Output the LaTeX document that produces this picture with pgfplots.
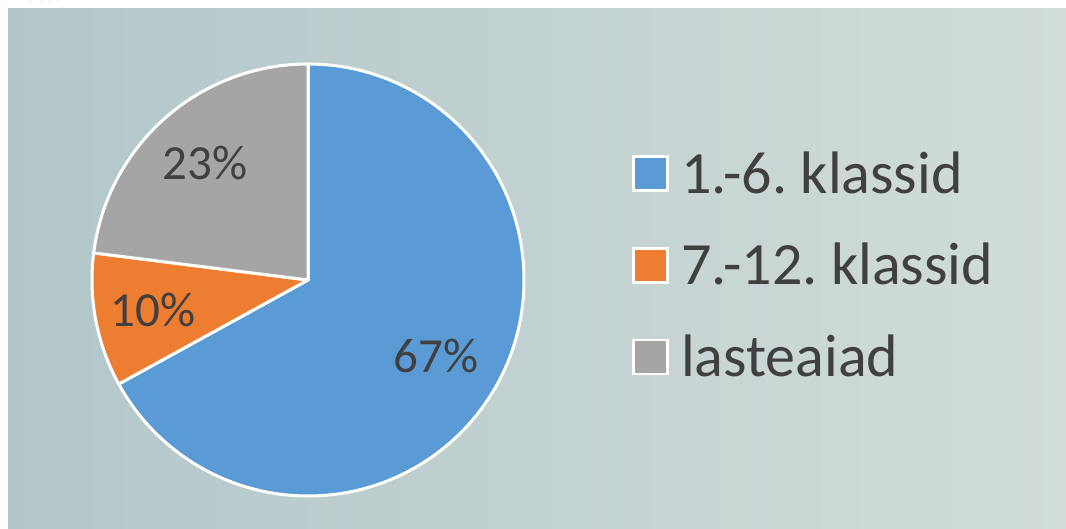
\documentclass[border=0pt]{standalone}
\usepackage{pgfplots}
\pgfplotsset{compat=1.18}
\usepackage{fontspec}
\setmainfont{Carlito}
\frenchspacing

\definecolor{pieblue}{HTML}{5B9BD5}
\definecolor{pieorange}{HTML}{ED7D31}
\definecolor{piegray}{HTML}{A5A5A5}
\definecolor{txtgray}{HTML}{404040}
\definecolor{bgleft}{HTML}{B2C6CA}
\definecolor{bgmid}{HTML}{C0D1D4}
\definecolor{bgright}{HTML}{D2DDD9}

\begin{document}
\begin{tikzpicture}
\begin{axis}[
  scale only axis,
  width=533pt, height=264.5pt,
  xmin=0, xmax=1066, ymin=0, ymax=529,
  hide axis,
  clip=false,
  legend cell align=left,
  legend style={at={(axis cs:626,386)}, anchor=north west,
    draw=none, fill=none, text=txtgray,
    font=\fontsize{30}{34}\selectfont, row sep=19.5pt},
  legend image code/.code={
    \draw[#1,draw=white,line width=1.3pt] (0pt,-8.5pt) rectangle (17pt,8.5pt);
    \path (21.5pt,0pt);},
]
% background of the slide
\pgfplotsextra{
  \fill[white] (axis cs:0,0) rectangle (axis cs:1066,529);
  \shade[left color=bgleft, middle color=bgmid, right color=bgright]
    (axis cs:8,0) rectangle (axis cs:1066,520);
  \node[overlay, anchor=base west, inner sep=0pt, text=txtgray,
    font=\fontsize{10}{12}\selectfont] at (axis cs:-6,528) {6. klasse.};
}
% pie: value / colour / label distance (fraction of radius)
\pgfplotsextra{
  \def\cx{308}\def\cy{249}\def\r{108pt}
  \xdef\start{90}
  \foreach \v/\c/\f in {67/pieblue/0.69, 10/pieorange/0.73, 23/piegray/0.72} {
    \pgfmathsetmacro\e{\start-3.6*\v}
    \fill[\c, draw=white, line width=1.5pt, line join=round]
      (axis cs:\cx,\cy) -- ++(\start:\r)
      arc[start angle=\start, end angle=\e, radius=\r] -- cycle;
    \pgfmathsetmacro\m{(\start+\e)/2}
    \path (axis cs:\cx,\cy) ++(\m:{\f*\r})
      node[text=txtgray, font=\fontsize{24.5}{28}\selectfont] {\v\%};
    \xdef\start{\e}
  }
}
\addlegendimage{fill=pieblue}
\addlegendentry{1.-6. klassid}
\addlegendimage{fill=pieorange}
\addlegendentry{7.-12. klassid}
\addlegendimage{fill=piegray}
\addlegendentry{lasteaiad}
\end{axis}
\end{tikzpicture}
\end{document}
